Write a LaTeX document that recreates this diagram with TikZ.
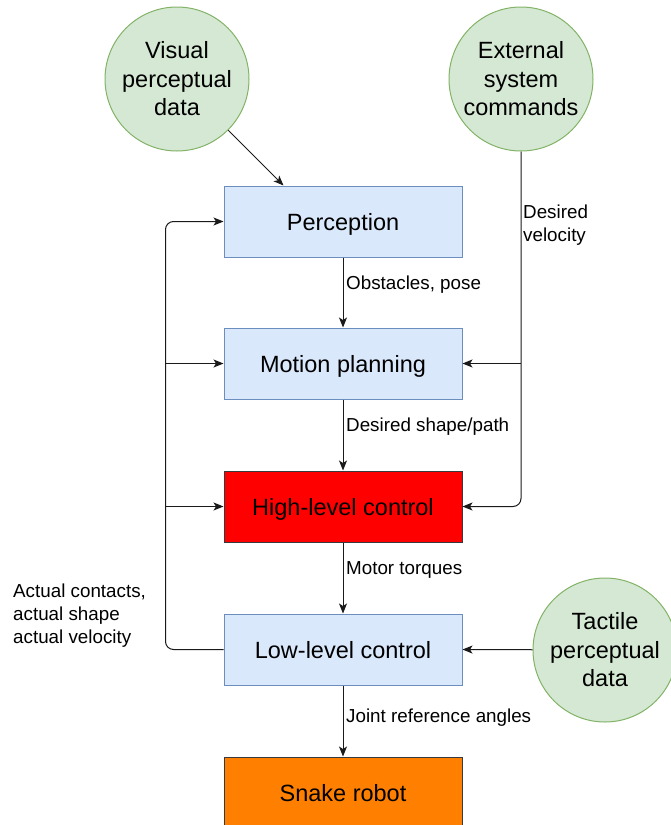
\documentclass[tikz,border=0pt]{standalone}
\usepackage{fontspec}
\setmainfont{Liberation Sans}
\usetikzlibrary{arrows.meta}
\definecolor{boxfill}{HTML}{DAE8FC}
\definecolor{boxline}{HTML}{6C8EBF}
\definecolor{srcfill}{HTML}{D5E8D4}
\definecolor{srcline}{HTML}{82B366}
\definecolor{hotfill}{HTML}{FF0000}
\definecolor{robotfill}{HTML}{FF8000}
\definecolor{darkline}{HTML}{36393D}
\definecolor{wire}{HTML}{1A1A1A}
\begin{document}
\begin{tikzpicture}[x=1pt,y=-1pt,
  big/.style={font=\fontsize{23.5}{28.5}\selectfont},
  stage/.style={big, draw=boxline, fill=boxfill, line width=1pt,
    minimum width=238pt, minimum height=71pt, inner sep=0pt,
    text height=17pt, text depth=0pt},
  source/.style={big, circle, draw=srcline, fill=srcfill, line width=1pt,
    minimum size=144pt, inner sep=0pt, align=center},
  lbl/.style={font=\fontsize{18.8}{23}\selectfont, inner sep=0pt, anchor=west, align=left},
  arr/.style={draw=wire, line width=1pt,
    -{Stealth[length=10pt, width=8pt, inset=2.5pt]}},
  wireline/.style={draw=wire, line width=1pt}]
\useasboundingbox (0,0) rectangle (670,825);

% processing stages
\node[stage] (P)  at (343,221.5) {Perception};
\node[stage] (MP) at (343,363.5) {Motion planning};
\node[stage, fill=hotfill, draw=darkline] (HL) at (343,506.5) {High-level control};
\node[stage] (LL) at (343,649.5) {Low-level control};
\node[stage, fill=robotfill, draw=darkline] (SR) at (343,792.5) {Snake robot};

% inputs
\node[source] (vis) at (177,79) {Visual\\perceptual\\data};
\node[source] (ext) at (521,79) {External\\system\\commands};
\node[source] (tac) at (605,650) {Tactile\\perceptual\\data};

% main chain
\draw[arr] (P) -- (MP);
\draw[arr] (MP) -- (HL);
\draw[arr] (HL) -- (LL);
\draw[arr] (LL) -- (SR);

\node[lbl] (l1) at (346,284.5) {Obstacles, pose};
\node[lbl] (l2) at (346,426.5) {Desired shape/path};
\node[lbl] (l3) at (346,569.5) {Motor torques};
\node[lbl] (l4) at (346,717.5) {Joint reference angles};

% visual data into perception
\draw[arr] (vis.-45) -- ([xshift=60pt]P.north west);

% external commands: desired velocity
\draw[arr, rounded corners=8pt] (ext.south) |- (HL.east);
\draw[arr] (ext.south |- MP.east) -- (MP.east);
\node[lbl] (l5) at (523,225) {Desired\\velocity};

% tactile data into low-level control
\draw[arr] (tac) -- (LL.east);

% feedback loop
\coordinate (fb) at ([xshift=-58pt]LL.west);
\draw[arr, rounded corners=8pt] (LL.west) -- (fb) |- (P.west);
\draw[arr] (fb |- MP.west) -- (MP.west);
\draw[arr] (fb |- HL.west) -- (HL.west);
\node[lbl] (l6) at (13,615.5) {Actual contacts,\\actual shape\\actual velocity};
\end{tikzpicture}
\end{document}
